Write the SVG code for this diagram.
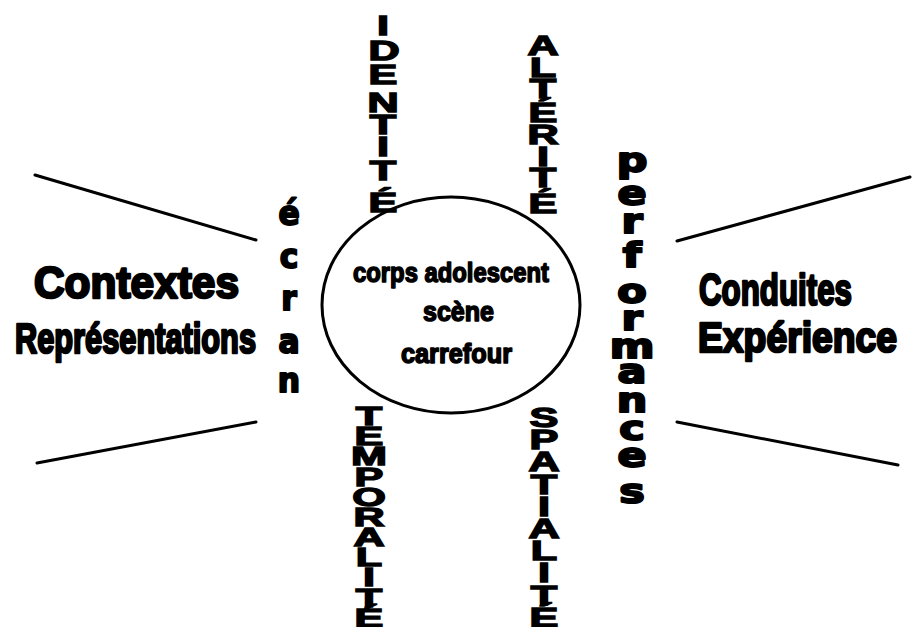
<svg xmlns="http://www.w3.org/2000/svg" width="912" height="627" viewBox="0 0 912 627">
<style>
.lbl{font-family:"Liberation Sans",Arial,sans-serif;font-weight:bold;fill:#000;stroke:#000;stroke-width:2.6;stroke-linejoin:round}
.ctr{font-family:"Liberation Sans",Arial,sans-serif;font-weight:bold;font-size:28px;fill:#000;stroke:#000;stroke-width:1.6;stroke-linejoin:round}
.v{font-family:"Liberation Sans",Arial,sans-serif;font-weight:bold;font-size:27px;fill:#000;stroke:#000;stroke-width:1.4;text-anchor:middle}
.lw{font-family:"DejaVu Sans",sans-serif;font-weight:bold;font-size:33px;fill:#000;stroke:#000;stroke-width:2;stroke-linejoin:round;text-anchor:middle}
.edge{stroke:#000;stroke-width:3;stroke-linecap:round;fill:none}
</style>
<rect width="912" height="627" fill="#fff"/>
<g id="connectors">
<line class="edge" x1="35" y1="175" x2="256" y2="240"/>
<line class="edge" x1="37" y1="463" x2="256" y2="422"/>
<line class="edge" x1="677" y1="241" x2="910" y2="177"/>
<line class="edge" x1="677" y1="422" x2="898" y2="465"/>
</g>
<g id="center">
<ellipse cx="451" cy="305" rx="129" ry="108" fill="none" stroke="#000" stroke-width="3"/>
<text class="ctr" x="353" y="282" textLength="196" lengthAdjust="spacingAndGlyphs">corps adolescent</text>
<text class="ctr" x="423" y="321" textLength="71" lengthAdjust="spacingAndGlyphs">scène</text>
<text class="ctr" x="401" y="363" textLength="111" lengthAdjust="spacingAndGlyphs">carrefour</text>
</g>
<g id="contextes">
<text class="lbl" x="34" y="298" font-size="45" textLength="205" lengthAdjust="spacingAndGlyphs">Contextes</text>
<text class="lbl" x="15" y="353" font-size="42" textLength="241" lengthAdjust="spacingAndGlyphs">Représentations</text>
</g>
<g id="conduites">
<text class="lbl" x="699" y="305" font-size="45" textLength="153" lengthAdjust="spacingAndGlyphs">Conduites</text>
<text class="lbl" x="698" y="352" font-size="42" textLength="199" lengthAdjust="spacingAndGlyphs">Expérience</text>
</g>
<g id="identite">
<text class="v" transform="translate(383,35) scale(1.6,1)">I</text>
<text class="v" transform="translate(384,60) scale(1.6,1)">D</text>
<text class="v" transform="translate(383,84) scale(1.6,1)">E</text>
<text class="v" transform="translate(383,112) scale(1.6,1)">N</text>
<text class="v" transform="translate(383,134) scale(1.6,1)">T</text>
<text class="v" transform="translate(383,156) scale(1.6,1)">I</text>
<text class="v" transform="translate(383,180) scale(1.6,1)">T</text>
<text class="v" transform="translate(383,212) scale(1.6,1)">É</text>
</g>
<g id="alterite">
<text class="v" transform="translate(543,55) scale(1.6,1)">A</text>
<text class="v" transform="translate(543,77) scale(1.6,1)">L</text>
<text class="v" transform="translate(543,98) scale(1.6,1)">T</text>
<text class="v" transform="translate(543,122) scale(1.6,1)">É</text>
<text class="v" transform="translate(543,144) scale(1.6,1)">R</text>
<text class="v" transform="translate(543,166) scale(1.6,1)">I</text>
<text class="v" transform="translate(543,187) scale(1.6,1)">T</text>
<text class="v" transform="translate(543,213) scale(1.6,1)">É</text>
</g>
<g id="temporalite">
<text class="v" transform="translate(369,425) scale(1.6,0.95)">T</text>
<text class="v" transform="translate(369,445) scale(1.6,0.95)">E</text>
<text class="v" transform="translate(369,465) scale(1.6,0.95)">M</text>
<text class="v" transform="translate(369,486) scale(1.6,0.95)">P</text>
<text class="v" transform="translate(369,506) scale(1.6,0.95)">O</text>
<text class="v" transform="translate(369,526) scale(1.6,0.95)">R</text>
<text class="v" transform="translate(369,546) scale(1.6,0.95)">A</text>
<text class="v" transform="translate(369,566) scale(1.6,0.95)">L</text>
<text class="v" transform="translate(369,586) scale(1.6,0.95)">I</text>
<text class="v" transform="translate(369,607) scale(1.6,0.95)">T</text>
<text class="v" transform="translate(369,627) scale(1.6,0.95)">É</text>
</g>
<g id="spatialite">
<text class="v" transform="translate(544,427) scale(1.6,1)">S</text>
<text class="v" transform="translate(544,449) scale(1.6,1)">P</text>
<text class="v" transform="translate(544,471) scale(1.6,1)">A</text>
<text class="v" transform="translate(544,494) scale(1.6,1)">T</text>
<text class="v" transform="translate(544,516) scale(1.6,1)">I</text>
<text class="v" transform="translate(544,538) scale(1.6,1)">A</text>
<text class="v" transform="translate(544,560) scale(1.6,1)">L</text>
<text class="v" transform="translate(544,582) scale(1.6,1)">I</text>
<text class="v" transform="translate(544,605) scale(1.6,1)">T</text>
<text class="v" transform="translate(544,627) scale(1.6,1)">É</text>
</g>
<g id="ecran">
<text class="lw" transform="translate(289,225) scale(0.95,1)">é</text>
<text class="lw" transform="translate(289,268) scale(0.95,1)">c</text>
<text class="lw" transform="translate(289,310) scale(0.95,1)">r</text>
<text class="lw" transform="translate(289,353) scale(0.95,1)">a</text>
<text class="lw" transform="translate(289,392) scale(0.95,1)">n</text>
</g>
<g id="performances">
<text class="lw" transform="translate(632,172) scale(1.3,1)">p</text>
<text class="lw" transform="translate(632,205) scale(1.3,1)">e</text>
<text class="lw" transform="translate(632,233) scale(1.3,1)">r</text>
<text class="lw" transform="translate(632,267) scale(1.3,1)">f</text>
<text class="lw" transform="translate(632,303) scale(1.3,1)">o</text>
<text class="lw" transform="translate(632,330) scale(1.3,1)">r</text>
<text class="lw" transform="translate(632,358) scale(1.3,1)">m</text>
<text class="lw" transform="translate(632,383) scale(1.3,1)">a</text>
<text class="lw" transform="translate(632,412) scale(1.3,1)">n</text>
<text class="lw" transform="translate(632,440) scale(1.3,1)">c</text>
<text class="lw" transform="translate(632,467) scale(1.3,1)">e</text>
<text class="lw" transform="translate(632,503) scale(1.3,1)">s</text>
</g>
</svg>
